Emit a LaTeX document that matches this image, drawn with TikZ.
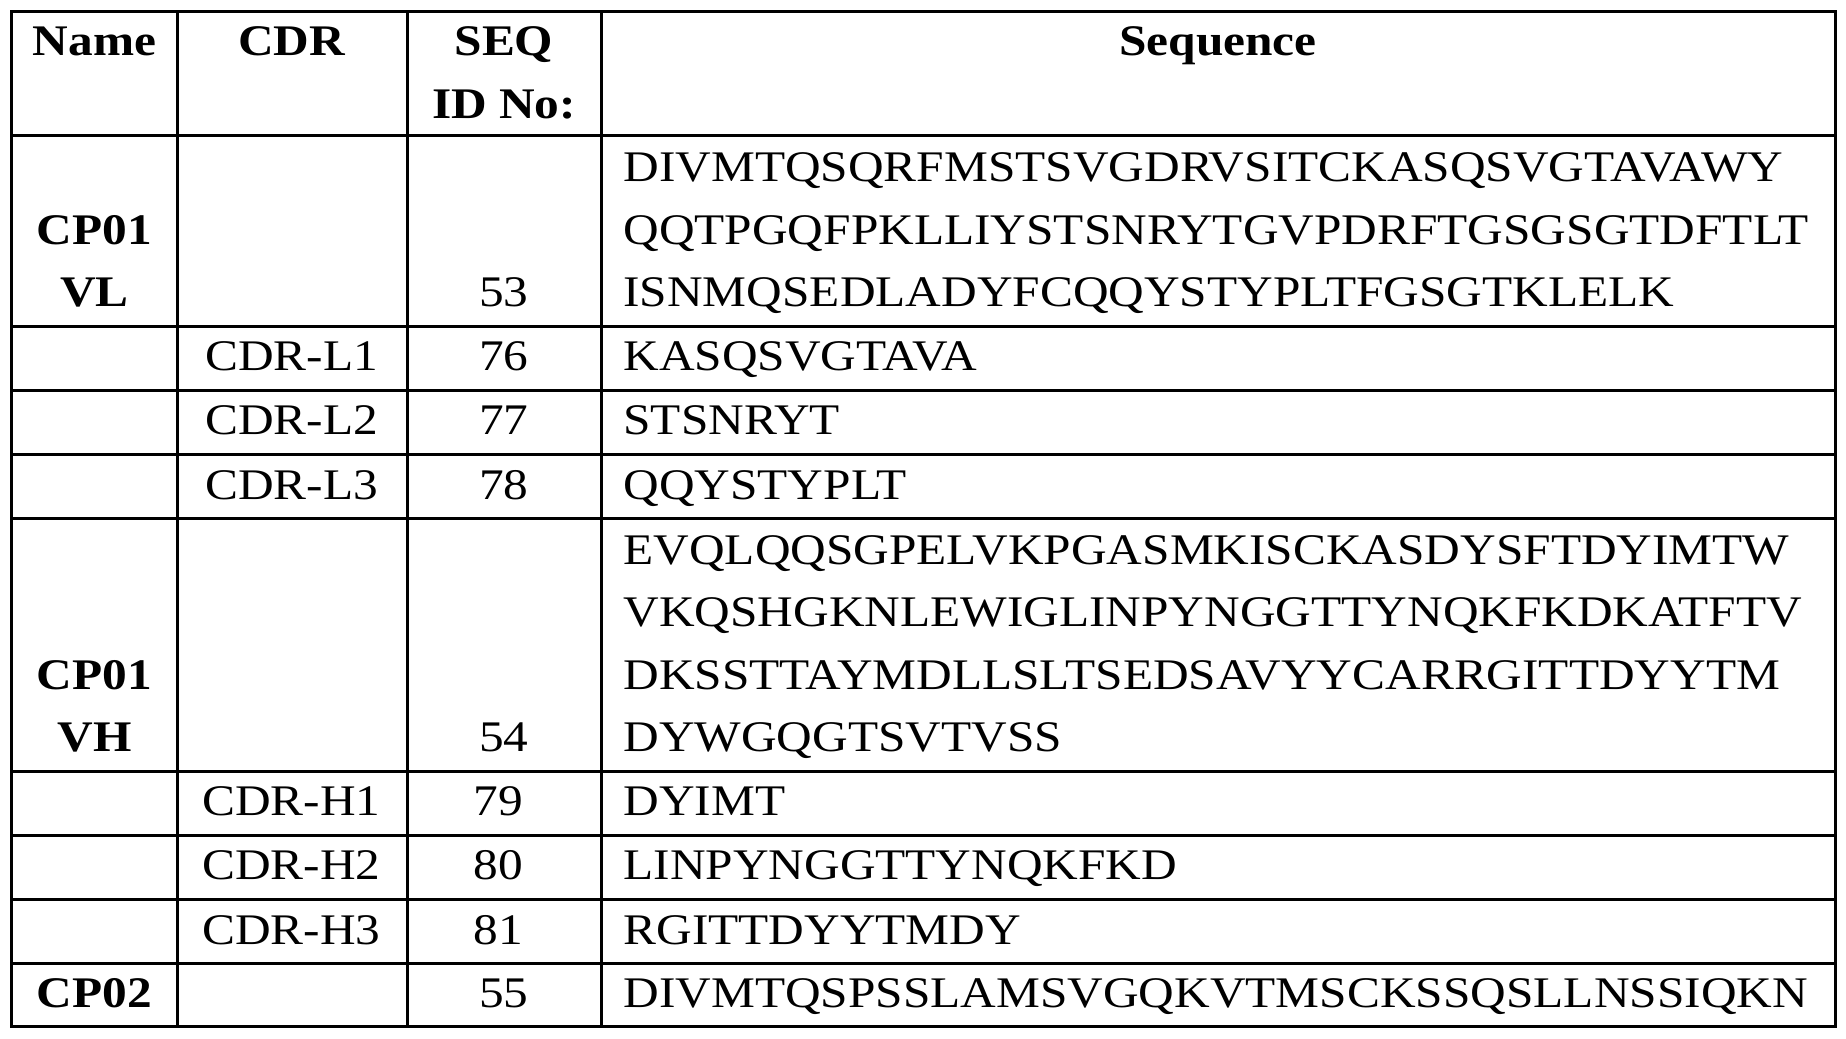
\documentclass[tikz,border=0pt]{standalone}
\usepackage{fontspec}
\setmainfont{Liberation Serif}
\usetikzlibrary{positioning}
\begin{document}
\begin{tikzpicture}[
			x=1pt, y=-1pt,
			grid/.style = {line width=2.6pt, black},
			cell/.style = {inner sep=0pt, font=\fontsize{37}{40}\selectfont, anchor=base, xscale=1.13, transform shape},
			seq/.style = {cell, anchor=base west},
			hd/.style = {cell, font=\fontsize{37}{40}\selectfont\bfseries},
			]
			\useasboundingbox (0,0) rectangle (1564,880);
			% grid
			\draw[grid] (10,10) rectangle (1555,870);
			\foreach \xx in {150,345,510}
				\draw[grid] (\xx,10) -- (\xx,870);
			\foreach \yy in {115,277,331,385,439,654,708,762,816}
				\draw[grid] (10,\yy) -- (1555,\yy);
			% header
			\node[hd] (hname) at (80,47) {Name};
			\node[hd] (hcdr) at (247,47) {CDR};
			\node[hd] (hseq) at (427,47) {SEQ};
			\node[hd] (hid) at (427,100) {ID No:};
			\node[hd] (hsequence) at (1032,47) {Sequence};
			% CP01 VL
			\node[hd] (vl1) at (80,207) {CP01};
			\node[hd] (vl2) at (80,260) {VL};
			\node[cell] (n53) at (427,260) {53};
			\node[seq] (s1) at (528,154) {DIVMTQSQRFMSTSVGDRVSITCKASQSVGTAVAWY};
			\node[seq] (s2) at (528,207) {QQTPGQFPKLLIYSTSNRYTGVPDRFTGSGSGTDFTLT};
			\node[seq] (s3) at (528,260) {ISNMQSEDLADYFCQQYSTYPLTFGSGTKLELK};
			\foreach \cdr/\num/\txt/\yy in {L1/76/KASQSVGTAVA/314, L2/77/STSNRYT/368, L3/78/QQYSTYPLT/423}{
				\node[cell] (c\cdr) at (247,\yy) {CDR-\cdr};
				\node[cell] (n\num) at (427,\yy) {\num};
				\node[seq] (s\num) at (528,\yy) {\txt};
			}
			% CP01 VH
			\node[hd] (vh1) at (80,584) {CP01};
			\node[hd] (vh2) at (80,637) {VH};
			\node[cell] (n54) at (427,637) {54};
			\node[seq] (s4) at (528,478) {EVQLQQSGPELVKPGASMKISCKASDYSFTDYIMTW};
			\node[seq] (s5) at (528,531) {VKQSHGKNLEWIGLINPYNGGTTYNQKFKDKATFTV};
			\node[seq] (s6) at (528,584) {DKSSTTAYMDLLSLTSEDSAVYYCARRGITTDYYTM};
			\node[seq] (s7) at (528,637) {DYWGQGTSVTVSS};
			\foreach \cdr/\num/\txt/\yy in {H1/79/DYIMT/691, H2/80/LINPYNGGTTYNQKFKD/745, H3/81/RGITTDYYTMDY/800}{
				\node[cell] (c\cdr) at (247,\yy) {CDR-\cdr};
				\node[cell] (n\num) at (422,\yy) {\num};
				\node[seq] (s\num) at (528,\yy) {\txt};
			}
			% CP02
			\node[hd] (cp2) at (80,854) {CP02};
			\node[cell] (n55) at (427,854) {55};
			\node[seq] (s8) at (528,854) {DIVMTQSPSSLAMSVGQKVTMSCKSSQSLLNSSIQKN};
		\end{tikzpicture}
\end{document}
